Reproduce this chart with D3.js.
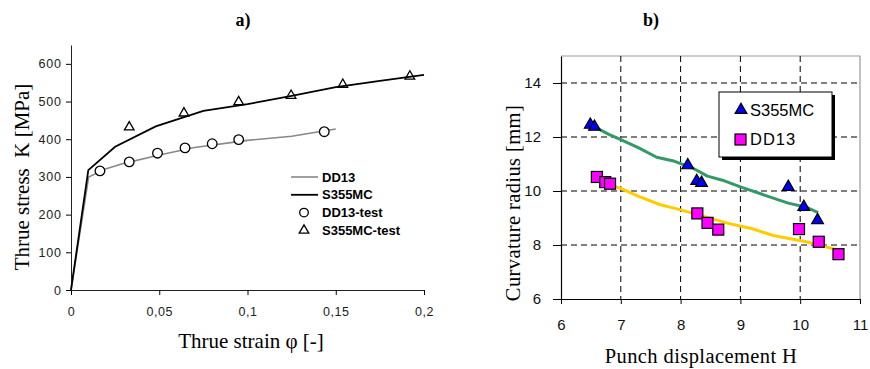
<!DOCTYPE html>
<html>
<head>
<meta charset="utf-8">
<script src="https://cdn.jsdelivr.net/npm/d3@7"></script>
<style>
  body { margin: 0; background: #fff; }
  svg { display: block; }
</style>
</head>
<body>
<svg id="chart" width="870" height="369"></svg>
<script>
// ---- data: chart a) true stress vs true strain
const dd13Line = [[0,0],[0.01,300],[0.02,322],[0.03,336],[0.05,358],[0.07,378],[0.1,397],[0.125,408],[0.15,427]];
const s355Line = [[0,0],[0.0098,318],[0.025,380],[0.048,434],[0.075,475],[0.1,493],[0.125,515],[0.15,538],[0.175,555],[0.2,571]];
const dd13Test = [[0.0164,316],[0.033,340],[0.049,363],[0.0646,377],[0.08,388],[0.095,399],[0.1435,420]];
const s355Test = [[0.033,432],[0.064,469],[0.095,499],[0.1247,516],[0.154,545],[0.192,567]];
const strainTicks = [0, 0.05, 0.1, 0.15, 0.2];
const stressTicks = [0, 100, 200, 300, 400, 500, 600];
const legendA = ["DD13", "S355MC", "DD13-test", "S355MC-test"];

// ---- data: chart b) curvature radius vs punch displacement
const s355Pts = [[6.49,12.45],[6.56,12.38],[8.12,10.95],[8.27,10.37],[8.35,10.3],[9.8,10.15],[10.06,9.41],[10.29,8.92]];
const dd13Pts = [[6.6,10.52],[6.74,10.33],[6.82,10.27],[8.28,9.17],[8.45,8.82],[8.63,8.57],[9.98,8.59],[10.31,8.12],[10.64,7.66]];
const s355Trend = [[6.5,12.45],[6.8,12.1],[7.0,11.9],[7.3,11.6],[7.6,11.25],[7.9,11.1],[8.2,10.85],[8.45,10.55],[8.7,10.4],[9.0,10.15],[9.4,9.85],[9.8,9.55],[10.1,9.4],[10.3,9.2]];
const dd13Trend = [[6.6,10.4],[7.0,10.1],[7.3,9.8],[7.65,9.5],[8.0,9.3],[8.4,9.05],[8.8,8.8],[9.2,8.6],[9.55,8.35],[10.1,8.12],[10.4,7.95],[10.65,7.8]];
const dispTicks = [6, 7, 8, 9, 10, 11];
const radiusTicks = [6, 8, 10, 12, 14];
const legendB = ["S355MC", "DD13"];

const svg = d3.select('#chart');
const sans = "Liberation Sans, Arial, sans-serif";
const serif = "Liberation Serif, Times New Roman, serif";

// ================= chart a =================
const xa = d3.scaleLinear([0, 0.2], [71, 424]);
const ya = d3.scaleLinear([0, 650], [290, 45]);
const fmt = d => d === 0 ? "0" : String(d).replace('.', ',');

const ga = svg.append('g').attr('id', 'chartA');

ga.append('g')
  .attr('transform', 'translate(0,290)')
  .call(d3.axisBottom(xa).tickValues(strainTicks).tickFormat(fmt).tickSize(5).tickSizeOuter(0))
  .call(g => g.select('.domain').attr('stroke', '#222'))
  .call(g => g.selectAll('text').attr('font-family', sans).attr('font-size', 12.5)
    .attr('letter-spacing', 0.6).attr('fill', '#222').attr('y', 26).attr('dy', 0));

ga.append('g')
  .attr('transform', 'translate(71,0)')
  .call(d3.axisLeft(ya).tickValues(stressTicks).tickSize(5).tickSizeOuter(0))
  .call(g => g.select('.domain').attr('stroke', '#222'))
  .call(g => g.selectAll('text').attr('font-family', sans).attr('font-size', 12.5)
    .attr('letter-spacing', 0.8).attr('fill', '#222').attr('dx', '-0.1em'));

const lineA = d3.line().x(d => xa(d[0])).y(d => ya(d[1]));
ga.append('path').datum(dd13Line).attr('d', lineA)
  .attr('fill', 'none').attr('stroke', '#888').attr('stroke-width', 1.6);
ga.append('path').datum(s355Line).attr('d', lineA)
  .attr('fill', 'none').attr('stroke', '#000').attr('stroke-width', 1.8);

ga.selectAll('circle.test').data(dd13Test).join('circle')
  .attr('class', 'test')
  .attr('cx', d => xa(d[0])).attr('cy', d => ya(d[1])).attr('r', 4.8)
  .attr('fill', '#fff').attr('stroke', '#000').attr('stroke-width', 1.3);

const triA = d3.symbol(d3.symbolTriangle, 40);
ga.selectAll('path.test').data(s355Test).join('path')
  .attr('class', 'test')
  .attr('d', triA)
  .attr('transform', d => `translate(${xa(d[0])},${ya(d[1])})`)
  .attr('fill', 'none').attr('stroke', '#000').attr('stroke-width', 1.3);

// legend a
const legA = ga.append('g').attr('transform', 'translate(291,177)');
legendA.forEach((name, i) => {
  const row = legA.append('g').attr('transform', `translate(0,${i * 17.8})`);
  if (i === 0) row.append('line').attr('x1', 0).attr('x2', 27).attr('stroke', '#888').attr('stroke-width', 1.6);
  if (i === 1) row.append('line').attr('x1', 0).attr('x2', 27).attr('stroke', '#000').attr('stroke-width', 1.8);
  if (i === 2) row.append('circle').attr('cx', 13).attr('r', 4.3).attr('fill', 'none').attr('stroke', '#000').attr('stroke-width', 1.3);
  if (i === 3) row.append('path').attr('d', triA).attr('transform', 'translate(13,0)').attr('fill', 'none').attr('stroke', '#000').attr('stroke-width', 1.3);
  row.append('text').attr('x', 31).attr('dy', '0.36em')
    .attr('font-family', sans).attr('font-size', 13).attr('font-weight', 'bold')
    .text(name);
});

ga.append('text').attr('x', 243).attr('y', 26).attr('text-anchor', 'middle')
  .attr('font-family', serif).attr('font-weight', 'bold').attr('font-size', 18).text('a)');
ga.append('text').attr('x', 251).attr('y', 348).attr('text-anchor', 'middle')
  .attr('font-family', serif).attr('font-size', 21).text('Thrue strain φ [-]');
ga.append('text').attr('transform', 'translate(29,177) rotate(-90)').attr('text-anchor', 'middle')
  .attr('font-family', serif).attr('font-size', 21).attr('xml:space', 'preserve').text('Thrue stress  K [MPa]');

// ================= chart b =================
const xb = d3.scaleLinear([6, 11], [561, 860]);
const yb = d3.scaleLinear([6, 15], [299, 56]);
const gb = svg.append('g').attr('id', 'chartB');

// frame (gray top/right)
gb.append('path')
  .attr('d', `M${xb(6)},${yb(15)}H${xb(11)}V${yb(6)}`)
  .attr('fill', 'none').attr('stroke', '#999').attr('stroke-width', 1.2);

// dashed grid
gb.selectAll('line.vgrid').data(dispTicks.slice(1, -1)).join('line')
  .attr('class', 'vgrid')
  .attr('x1', d => xb(d)).attr('x2', d => xb(d)).attr('y1', yb(15)).attr('y2', yb(6))
  .attr('stroke', '#000').attr('stroke-width', 1).attr('stroke-dasharray', '6,4');
gb.selectAll('line.hgrid').data(radiusTicks.slice(1)).join('line')
  .attr('class', 'hgrid')
  .attr('x1', xb(6)).attr('x2', xb(11)).attr('y1', d => yb(d)).attr('y2', d => yb(d))
  .attr('stroke', '#000').attr('stroke-width', 1).attr('stroke-dasharray', '6,4');

gb.append('g')
  .attr('transform', `translate(0,${yb(6)})`)
  .call(d3.axisBottom(xb).tickValues(dispTicks).tickFormat(d3.format('d')).tickSize(5).tickSizeOuter(0))
  .call(g => g.select('.domain').attr('stroke', '#000').attr('stroke-width', 1.2))
  .call(g => g.selectAll('text').attr('font-family', sans).attr('font-size', 15)
    .attr('fill', '#111').attr('y', 31).attr('dy', 0));

gb.append('g')
  .attr('transform', `translate(${xb(6)},0)`)
  .call(d3.axisLeft(yb).tickValues(radiusTicks).tickSize(8).tickSizeOuter(0))
  .call(g => g.select('.domain').attr('stroke', '#000').attr('stroke-width', 1.2))
  .call(g => g.selectAll('text').attr('font-family', sans).attr('font-size', 15)
    .attr('fill', '#111').attr('x', -20));

const lineB = d3.line().x(d => xb(d[0])).y(d => yb(d[1]));
gb.append('path').datum(s355Trend).attr('d', lineB)
  .attr('fill', 'none').attr('stroke', '#339966').attr('stroke-width', 3).attr('stroke-linejoin', 'round');
gb.append('path').datum(dd13Trend).attr('d', lineB)
  .attr('fill', 'none').attr('stroke', '#FFCC00').attr('stroke-width', 3).attr('stroke-linejoin', 'round');

const triB = d3.symbol(d3.symbolTriangle, 60);
const sq = 11;
gb.selectAll('rect.dd').data(dd13Pts).join('rect')
  .attr('class', 'dd')
  .attr('x', d => xb(d[0]) - sq / 2).attr('y', d => yb(d[1]) - sq / 2)
  .attr('width', sq).attr('height', sq)
  .attr('fill', '#FF00FF').attr('stroke', '#000').attr('stroke-width', 1.2);
gb.selectAll('path.s3').data(s355Pts).join('path')
  .attr('class', 's3')
  .attr('d', triB)
  .attr('transform', d => `translate(${xb(d[0])},${yb(d[1])})`)
  .attr('fill', '#0000FF').attr('stroke', '#000').attr('stroke-width', 1.2);

// legend b
const legB = gb.append('g').attr('transform', 'translate(719,92)');
legB.append('rect').attr('x', 3).attr('y', 3).attr('width', 113).attr('height', 65).attr('fill', '#000');
legB.append('rect').attr('width', 113).attr('height', 65).attr('fill', '#fff').attr('stroke', '#000').attr('stroke-width', 1);
legB.append('path').attr('d', triB).attr('transform', 'translate(22,18)')
  .attr('fill', '#0000FF').attr('stroke', '#000').attr('stroke-width', 1.2);
legB.append('rect').attr('x', 16).attr('y', 42).attr('width', sq).attr('height', sq)
  .attr('fill', '#FF00FF').attr('stroke', '#000').attr('stroke-width', 1.2);
legB.selectAll('text').data(legendB).join('text')
  .attr('x', 31).attr('y', (d, i) => i === 0 ? 18 : 47).attr('dy', '0.36em')
  .attr('font-family', sans).attr('font-size', 16.5).attr('letter-spacing', (d, i) => i === 0 ? 0 : 1)
  .text(d => d);

gb.append('text').attr('x', 651).attr('y', 26).attr('text-anchor', 'middle')
  .attr('font-family', serif).attr('font-weight', 'bold').attr('font-size', 18).text('b)');
gb.append('text').attr('x', 701).attr('y', 363).attr('text-anchor', 'middle')
  .attr('font-family', serif).attr('font-size', 20.5).attr('letter-spacing', 0.4).text('Punch displacement H');
gb.append('text').attr('transform', 'translate(520,203) rotate(-90)').attr('text-anchor', 'middle')
  .attr('font-family', serif).attr('font-size', 20.5).attr('letter-spacing', 0.4).text('Curvature radius [mm]');
</script>
</body>
</html>
